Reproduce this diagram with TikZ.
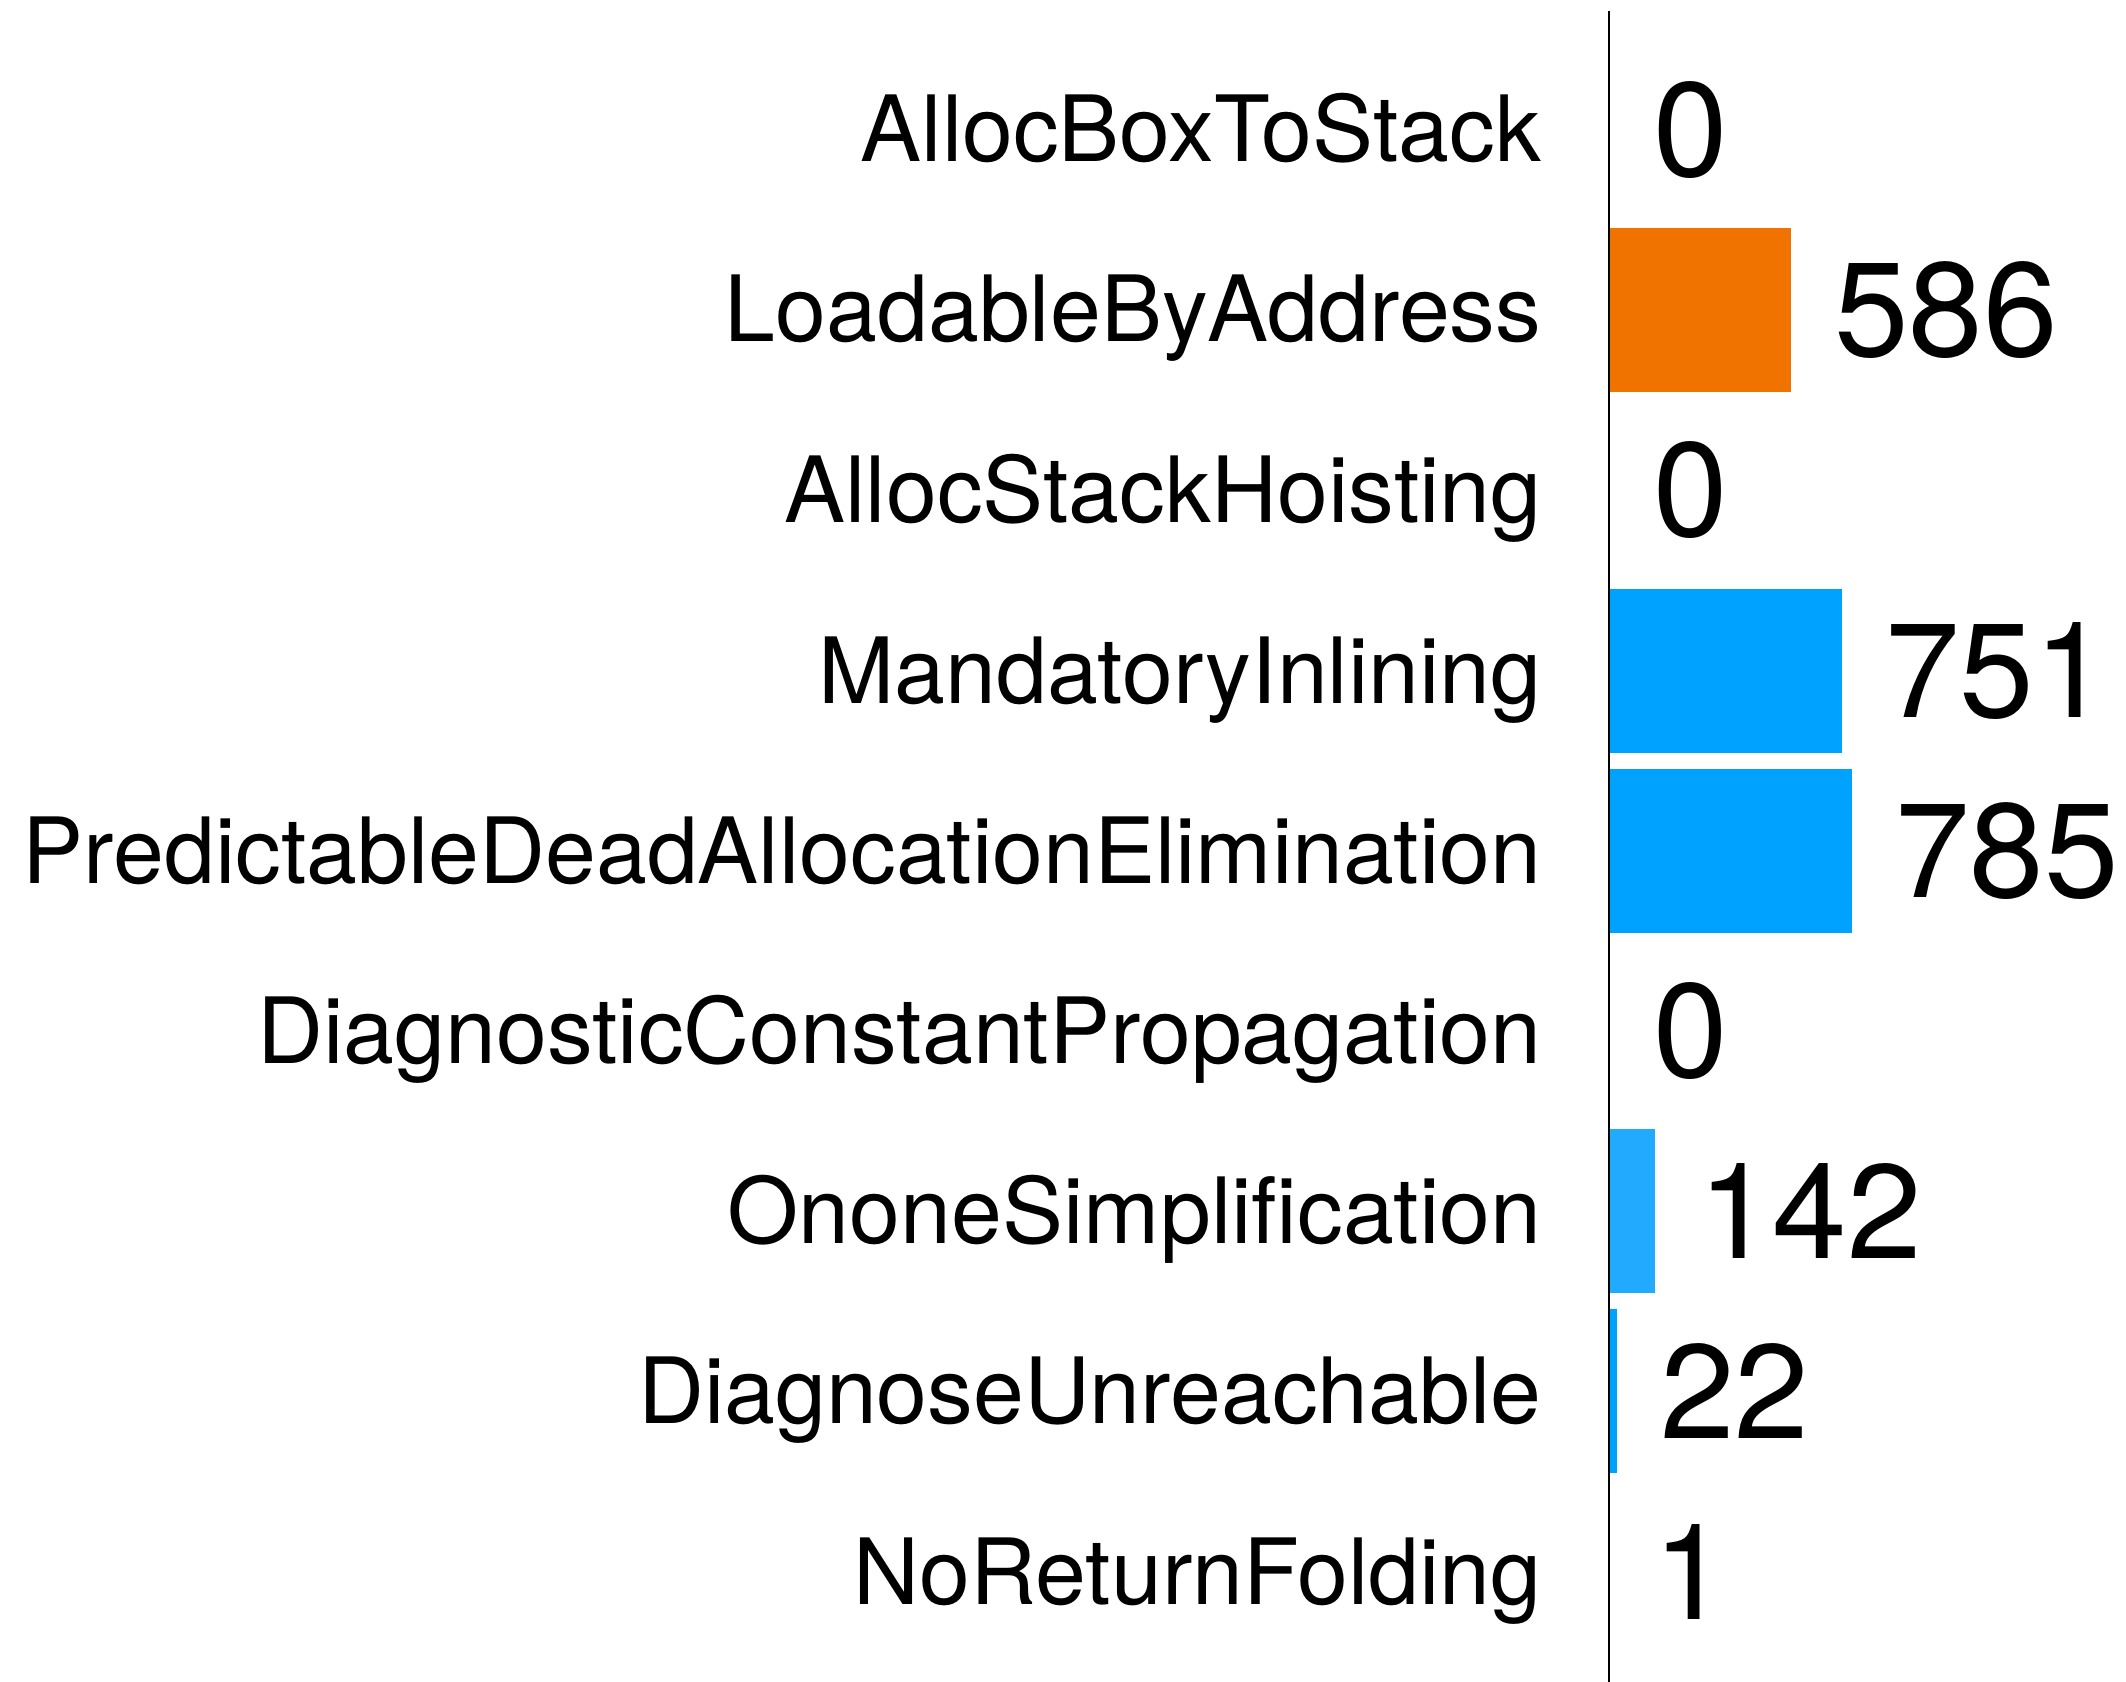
\documentclass[tikz,border=0pt]{standalone}
\usepackage{fontspec}
\setmainfont{TeX Gyre Heros}
\usetikzlibrary{positioning}
\definecolor{passorange}{RGB}{240,115,0}
\definecolor{passblue}{RGB}{0,162,255}
\definecolor{passlight}{RGB}{34,170,255}
\newcommand{\passfont}{\fontsize{26}{30}\selectfont}
\newcommand{\cntfont}{\fontsize{38.1}{44}\selectfont}
\tikzset{
  passlbl/.style={anchor=base east,inner sep=0pt,font=\passfont},
  cntlbl/.style={anchor=west,inner sep=0pt,font=\cntfont},
  hbar/.style={rectangle,anchor=west,inner sep=0pt,minimum height=1.64cm},
  axisline/.style={draw=black,line width=0.65pt}
}

\begin{document}
\begin{tikzpicture}[x=0.01cm,y=-0.01cm]
  \useasboundingbox (0,0) rectangle (2126,1682);

  % rows on the axis
  \coordinate (r1) at (1609,130);
  \coordinate (r2) at (1609,310);
  \coordinate (r3) at (1609,490);
  \coordinate (r4) at (1609,671);
  \coordinate (r5) at (1609,851);
  \coordinate (r6) at (1609,1031);
  \coordinate (r7) at (1609,1211);
  \coordinate (r8) at (1609,1391);
  \coordinate (r9) at (1609,1572);

  % pass names
  \node[passlbl] (l1) at (1542,162) {AllocBoxToStack};
  \node[passlbl] (l2) at (1542,342) {LoadableByAddress};
  \node[passlbl] (l3) at (1542,522) {AllocStackHoisting};
  \node[passlbl] (l4) at (1542,703) {MandatoryInlining};
  \node[passlbl] (l5) at (1542,883) {PredictableDeadAllocationElimination};
  \node[passlbl] (l6) at (1542,1063) {DiagnosticConstantPropagation};
  \node[passlbl] (l7) at (1542,1243) {OnoneSimplification};
  \node[passlbl] (l8) at (1542,1423) {DiagnoseUnreachable};
  \node[passlbl] (l9) at (1542,1604) {NoReturnFolding};

  % bars
  \node[hbar,fill=passorange,minimum width=1.81cm] (b2) at (r2) {};
  \node[hbar,fill=passblue,minimum width=2.32cm] (b4) at (r4) {};
  \node[hbar,fill=passblue,minimum width=2.42cm] (b5) at (r5) {};
  \node[hbar,fill=passlight,minimum width=0.45cm] (b7) at (r7) {};
  \node[hbar,fill=passblue,minimum width=0.07cm] (b8) at (r8) {};

  % counts
  \node[cntlbl,right=0.44cm of r1] (v1) {0};
  \node[cntlbl,right=0.42cm of b2] (v2) {586};
  \node[cntlbl,right=0.44cm of r3] (v3) {0};
  \node[cntlbl,right=0.42cm of b4] (v4) {751};
  \node[cntlbl,right=0.42cm of b5] (v5) {785};
  \node[cntlbl,right=0.44cm of r6] (v6) {0};
  \node[cntlbl,right=0.42cm of b7] (v7) {142};
  \node[cntlbl,right=0.42cm of b8] (v8) {22};
  \node[cntlbl,right=0.44cm of r9] (v9) {1};

  % axis
  \coordinate (atop) at (1609,11);
  \coordinate (abot) at (1609,1682);
  \draw[axisline] (atop) -- (abot);

\end{tikzpicture}
\end{document}
